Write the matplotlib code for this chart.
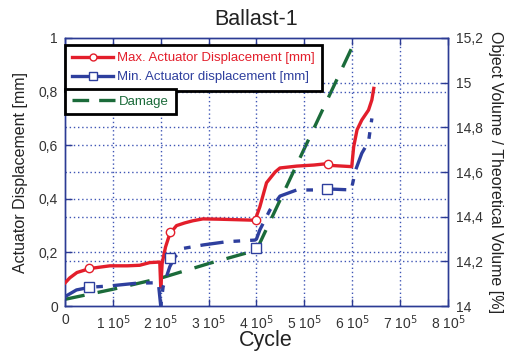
import matplotlib
matplotlib.use("Agg")
import matplotlib.pyplot as plt
from matplotlib.lines import Line2D

plt.rcParams['font.family'] = ['Liberation Sans', 'DejaVu Sans']

# cycles in units of 1e5
max_x = [0.0, 0.1, 0.25, 0.52, 0.94, 1.3, 1.56, 1.77, 1.98, 2.0, 2.03, 2.1, 2.19, 2.33, 2.5, 2.67, 2.88, 3.2, 3.6, 3.97,
         4.07, 4.21, 4.39, 4.49, 4.84, 5.2, 5.47, 5.6, 5.99, 6.03, 6.10, 6.2, 6.34, 6.41, 6.45]
max_y = [0.086, 0.105, 0.125, 0.14, 0.15, 0.15, 0.152, 0.162, 0.164, 0.07, 0.16, 0.22, 0.27, 0.30, 0.31, 0.318, 0.325, 0.324, 0.322, 0.32,
         0.37, 0.46, 0.50, 0.515, 0.522, 0.526, 0.531, 0.524, 0.52, 0.594, 0.657, 0.694, 0.731, 0.769, 0.812]

min_x = [0.0, 0.24, 0.52, 0.94, 1.49, 1.95, 2.0, 2.05, 2.19, 2.30, 2.47, 2.89, 3.38, 3.97, 4.0,
         4.07, 4.28, 4.49, 4.84, 5.2, 5.47, 5.99, 6.0, 6.07, 6.2, 6.34, 6.41]
min_y = [0.035, 0.06, 0.07, 0.075, 0.085, 0.087, 0.0, 0.072, 0.147, 0.184, 0.215, 0.228, 0.24, 0.246, 0.25,
         0.284, 0.358, 0.41, 0.433, 0.433, 0.437, 0.433, 0.45, 0.507, 0.57, 0.613, 0.70]

damage_x = [0.0, 1.0, 2.0, 3.0, 4.0, 6.0]
damage_y = [14.03, 14.075, 14.125, 14.19, 14.25, 15.16]

max_mark_x = [0.5, 2.2, 4.0, 5.5]
max_mark_y = [0.14, 0.275, 0.32, 0.53]
min_mark_x = [0.5, 2.2, 4.0, 5.47]
min_mark_y = [0.07, 0.18, 0.215, 0.437]

xtick_labels = ["0"] + [r"%d 10$^5$" % i for i in range(1, 9)]
left_ticks = [0, 0.2, 0.4, 0.6, 0.8, 1.0]
left_labels = ["0", "0,2", "0,4", "0,6", "0,8", "1"]
right_ticks = [14, 14.2, 14.4, 14.6, 14.8, 15, 15.2]
right_labels = ["14", "14,2", "14,4", "14,6", "14,8", "15", "15,2"]

red = '#e31e2b'
blue = '#2e3f9e'
green = '#1b6b3a'
gridc = '#3f55b5'
spinec = '#2c3b94'

fig = plt.figure(figsize=(5.17, 3.56), dpi=100)
ax = fig.add_axes([0.1257, 0.1404, 0.7408, 0.7529])
ax2 = ax.twinx()

ax.set_xlim(0, 8)
ax.set_ylim(0, 1)
ax2.set_ylim(14, 15.2)

# grids
for v in range(1, 8):
    ax.axvline(v, color=gridc, lw=1, ls=(0, (1, 2)), zorder=0)
for v in left_ticks[1:-1]:
    ax.axhline(v, color=gridc, lw=1, ls=(0, (1, 2)), zorder=0)
for v in right_ticks[1:-1]:
    ax2.axhline(v, color=gridc, lw=1, ls=(0, (1, 2)), zorder=0)

ax2.plot(damage_x, damage_y, color=green, lw=2.4, dashes=(6, 4), zorder=2)
ax.plot(max_x, max_y, color=red, lw=2.4, zorder=3)
ax.plot(max_mark_x, max_mark_y, ls='none', marker='o', ms=6, mfc='white', mec=red, mew=1, zorder=4)
ax.plot(min_x, min_y, color=blue, lw=2.4, dashes=(7, 3, 2, 3), zorder=3)
ax.plot(min_mark_x, min_mark_y, ls='none', marker='s', ms=6.5, mfc='white', mec=blue, mew=1, zorder=4)
ax.set_zorder(ax2.get_zorder() + 1)
ax.patch.set_visible(False)

ax.set_xticks(range(9))
ax.set_xticklabels(xtick_labels, fontsize=10, color='#333333')
ax.set_yticks(left_ticks)
ax.set_yticklabels(left_labels, fontsize=10, color='#333333')
ax2.set_yticks(right_ticks)
ax2.set_yticklabels(right_labels, fontsize=10, color='#333333')
ax.tick_params(axis='both', direction='in', length=5, color=spinec, width=1, top=True, pad=5)
ax2.tick_params(axis='y', direction='in', length=5, color=spinec, width=1, pad=6)
for a in (ax, ax2):
    for s in a.spines.values():
        s.set_color(spinec)
        s.set_linewidth(1)

ax.set_ylabel("Actuator Displacement [mm]", fontsize=11.5, color='#222222', labelpad=8)
ax2.set_ylabel("Object Volume / Theoretical Volume [%]", fontsize=11.5, color='#222222', rotation=-90, labelpad=14)
ax.set_xlabel("Cycle", fontsize=15.5, color='#222222', labelpad=3)
ax.xaxis.set_label_coords(0.525, -0.09)
ax.set_title("Ballast-1", fontsize=15.5, color='#222222', pad=9)

h1 = [Line2D([], [], color=red, lw=2.4, marker='o', ms=5, mfc='white', mec=red),
      Line2D([], [], color=blue, lw=2.4, marker='s', ms=6, mfc='white', mec=blue)]
leg1 = ax.legend(h1, ["Max. Actuator Displacement [mm]", "Min. Actuator displacement [mm]"],
                 loc='upper left', bbox_to_anchor=(0.0, 0.974), borderaxespad=0, fontsize=9.5,
                 handlelength=3.1, handletextpad=0.3, labelspacing=0.5, borderpad=0.55,
                 fancybox=False, framealpha=1, edgecolor='black')
leg1.get_frame().set_linewidth(2)
for t, c in zip(leg1.get_texts(), [red, blue]):
    t.set_color(c)
ax.add_artist(leg1)

h2 = [Line2D([], [], color=green, lw=2.4, dashes=(5, 3))]
leg2 = ax.legend(h2, ["Damage"], loc='upper left', bbox_to_anchor=(0.0, 0.81), borderaxespad=0,
                 fontsize=9.5, handlelength=3.3, handletextpad=0.3, borderpad=0.5,
                 fancybox=False, framealpha=1, edgecolor='black')
leg2.get_frame().set_linewidth(2)
leg2.get_texts()[0].set_color(green)

fig.savefig("out.png", dpi=100)
